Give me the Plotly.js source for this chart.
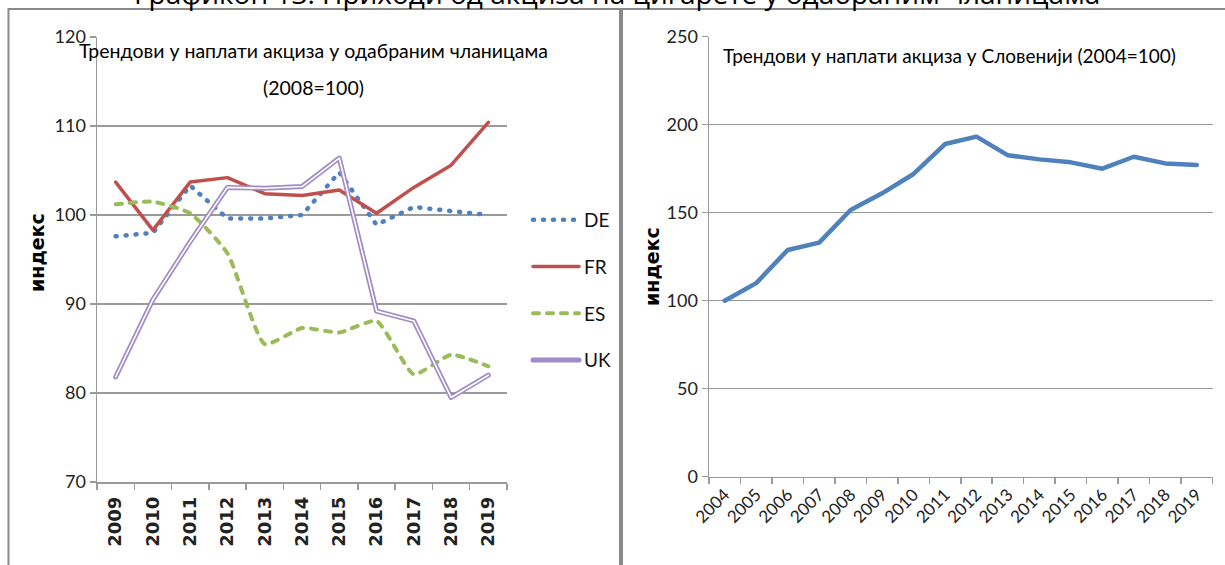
<!DOCTYPE html>
<html>
<head>
<meta charset="utf-8">
<script src="https://cdn.plot.ly/plotly-3.0.1.min.js"></script>
<style>
html, body { margin:0; padding:0; background:#fff; }
#chart { width:1225px; height:565px; }
.scatterlayer .js-line, .legend .js-line { stroke-linecap: round; stroke-linejoin: round; }
</style>
</head>
<body>
<div id="chart"></div>
<script>
// ---- Left chart: selected member states (2008=100)
const yearsLeft = ['2009','2010','2011','2012','2013','2014','2015','2016','2017','2018','2019'];
const seriesDE = [97.6, 98.0, 103.3, 99.6, 99.6, 100.0, 104.8, 98.9, 100.9, 100.4, 100.0];
const seriesFR = [103.7, 98.3, 103.7, 104.2, 102.4, 102.2, 102.8, 100.2, 103.1, 105.6, 110.4];
const seriesES = [101.2, 101.5, 100.2, 95.7, 85.5, 87.3, 86.8, 88.1, 82.1, 84.3, 83.0];
const seriesUK = [81.8, 90.5, 97.0, 103.1, 103.0, 103.2, 106.4, 89.2, 88.1, 79.5, 82.0];
const leftTicks = [70, 80, 90, 100, 110, 120];

// ---- Right chart: Slovenia (2004=100)
const yearsRight = ['2004','2005','2006','2007','2008','2009','2010','2011','2012','2013','2014','2015','2016','2017','2018','2019'];
const seriesSI = [100, 110, 128.8, 133, 151.5, 161, 172, 189, 193.2, 182.6, 180.3, 178.6, 175, 181.8, 178, 177.1];
const rightTicks = [0, 50, 100, 150, 200, 250];

const W = 1225, H = 565;
const px = v => v / W;
const py = v => 1 - v / H;

const NARROW = 'Lato, "Liberation Sans", sans-serif';
const WIDE = '"DejaVu Sans", Verdana, sans-serif';

const traces = [
  {x: yearsLeft, y: seriesDE, name: 'DE', type: 'scatter', mode: 'lines', xaxis: 'x', yaxis: 'y',
   legendgroup: 'g1', line: {color: '#4f81bd', width: 4.5, dash: '1px,9px'}},
  {x: yearsLeft, y: seriesFR, name: 'FR', type: 'scatter', mode: 'lines', xaxis: 'x', yaxis: 'y',
   legendgroup: 'g2', line: {color: '#c0504d', width: 3.5}},
  {x: yearsLeft, y: seriesES, name: 'ES', type: 'scatter', mode: 'lines', xaxis: 'x', yaxis: 'y',
   legendgroup: 'g3', line: {color: '#9bbb59', width: 4, dash: '6px,8px', shape: 'spline', smoothing: 0.5}},
  {x: yearsLeft, y: seriesUK, name: 'UK', type: 'scatter', mode: 'lines', xaxis: 'x', yaxis: 'y',
   legendgroup: 'g4', line: {color: '#a08cc6', width: 5}},
  {x: yearsLeft, y: seriesUK, name: 'UK', type: 'scatter', mode: 'lines', xaxis: 'x', yaxis: 'y',
   legendgroup: 'g4', showlegend: false, hoverinfo: 'skip', line: {color: '#ffffff', width: 1.6}},
  {x: yearsRight, y: seriesSI, name: 'SI', type: 'scatter', mode: 'lines', xaxis: 'x2', yaxis: 'y2',
   showlegend: false, line: {color: '#4f81bd', width: 4.5}}
];

const axisCommon = {
  showline: true, linecolor: '#9a9a9a', linewidth: 1.5,
  ticks: 'outside', tickcolor: '#9a9a9a', ticklen: 6, tickwidth: 1.5,
  automargin: false, zeroline: false, fixedrange: true
};

const layout = {
  width: W, height: H,
  margin: {l: 0, r: 0, t: 0, b: 0},
  paper_bgcolor: '#ffffff', plot_bgcolor: '#ffffff',
  showlegend: true,
  legend: {
    x: px(528), xanchor: 'left', y: py(201), yanchor: 'top',
    traceorder: 'grouped', tracegroupgap: 19, itemwidth: 46,
    font: {family: NARROW, size: 19, color: '#111'},
    bgcolor: 'rgba(0,0,0,0)'
  },
  xaxis: Object.assign({}, axisCommon, {
    domain: [px(97), px(507)], type: 'category', range: [-0.5, 10.5],
    tickson: 'boundaries', showgrid: false, tickangle: -90, ticklabelstandoff: 6,
    tickfont: {family: WIDE, size: 18, color: '#222', weight: 'bold'}
  }),
  yaxis: Object.assign({}, axisCommon, {
    domain: [py(482), py(37)], range: [70, 120], tickvals: leftTicks,
    showgrid: true, gridcolor: '#9a9a9a', gridwidth: 1.3,
    tickfont: {family: NARROW, size: 18, color: '#222'}
  }),
  xaxis2: Object.assign({}, axisCommon, {
    domain: [px(709), px(1212.5)], type: 'category', range: [-0.5, 15.5],
    tickson: 'boundaries', showgrid: false, tickangle: -45, anchor: 'y2',
    tickfont: {family: NARROW, size: 17, color: '#222'}
  }),
  yaxis2: Object.assign({}, axisCommon, {
    domain: [py(476.7), py(36.7)], range: [0, 250], tickvals: rightTicks, anchor: 'x2',
    showgrid: true, gridcolor: '#9a9a9a', gridwidth: 1.3,
    tickfont: {family: NARROW, size: 18, color: '#222'}
  }),
  shapes: [
    {type: 'rect', xref: 'paper', yref: 'paper', x0: px(8.5), x1: px(620), y0: py(570), y1: py(9),
     line: {color: '#8a8a8a', width: 2}, layer: 'below'},
    {type: 'rect', xref: 'paper', yref: 'paper', x0: px(622), x1: px(1232), y0: py(570), y1: py(9),
     line: {color: '#8a8a8a', width: 2}, layer: 'below'}
  ],
  annotations: [
    {text: 'Графикон 13: Приходи од акциза на цигарете у одабраним чланицама', xref: 'paper', yref: 'paper',
     x: px(617), y: py(14), xanchor: 'center', yanchor: 'bottom', showarrow: false,
     font: {family: '"Open Sans", sans-serif', size: 28, color: '#000'}},
    {text: 'Трендови у наплати акциза у одабраним чланицама', xref: 'paper', yref: 'paper',
     x: px(313), y: py(50), xanchor: 'center', yanchor: 'middle', showarrow: false,
     font: {family: NARROW, size: 19.5, color: '#000'}},
    {text: '(2008=100)', xref: 'paper', yref: 'paper',
     x: px(313), y: py(87), xanchor: 'center', yanchor: 'middle', showarrow: false,
     font: {family: NARROW, size: 19.5, color: '#000'}},
    {text: 'Трендови у наплати акциза у Словенији (2004=100)', xref: 'paper', yref: 'paper',
     x: px(721), y: py(55), xanchor: 'left', yanchor: 'middle', showarrow: false,
     font: {family: NARROW, size: 19, color: '#000'}},
    {text: '<b>индекс</b>', xref: 'paper', yref: 'paper', textangle: -90,
     x: px(37), y: py(253), xanchor: 'center', yanchor: 'middle', showarrow: false,
     font: {family: WIDE, size: 19, color: '#000'}},
    {text: '<b>индекс</b>', xref: 'paper', yref: 'paper', textangle: -90,
     x: px(652), y: py(267), xanchor: 'center', yanchor: 'middle', showarrow: false,
     font: {family: WIDE, size: 19, color: '#000'}}
  ]
};

Plotly.newPlot('chart', traces, layout, {staticPlot: true, displayModeBar: false});
</script>
</body>
</html>
